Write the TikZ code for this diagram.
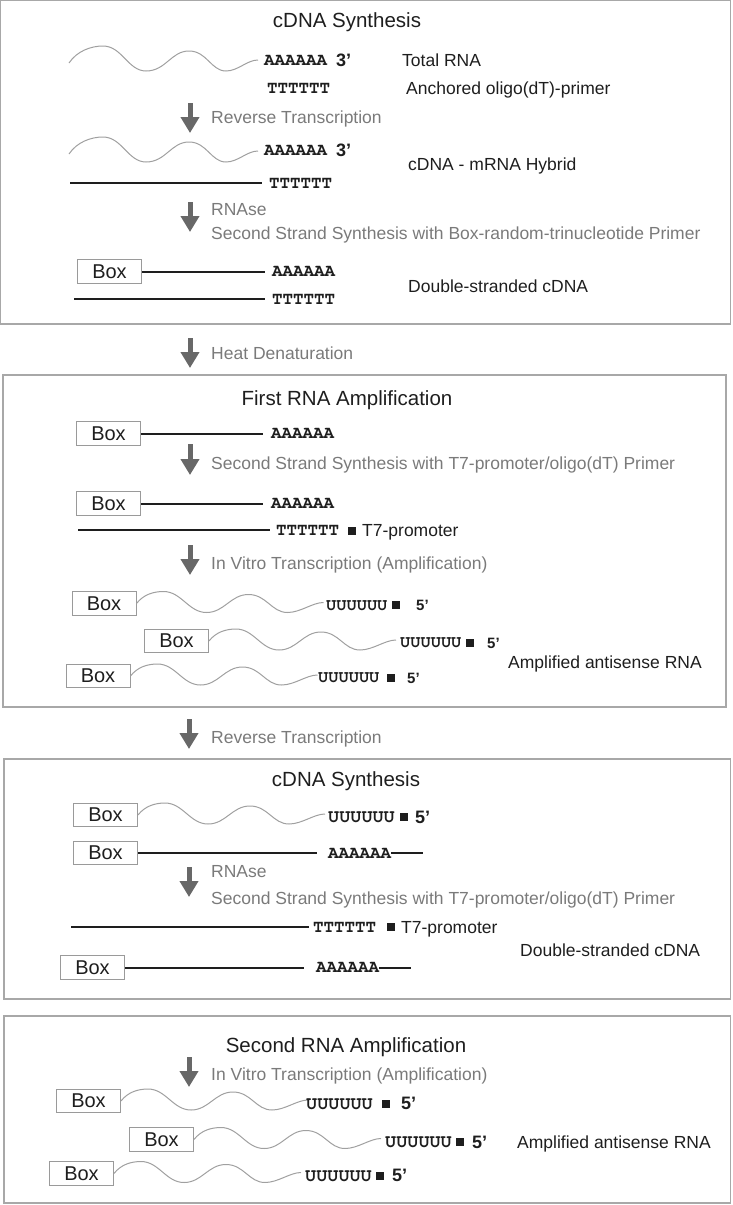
\documentclass[tikz,border=0pt]{standalone}
\usepackage{fontspec}
\setmainfont{Liberation Sans}
\newfontfamily\monofam{texgyrecursor-regular.otf}[BoldFont=texgyrecursor-bold.otf]
\usetikzlibrary{arrows.meta}
\definecolor{framegray}{HTML}{A8A8A8}
\definecolor{boxgray}{HTML}{9A9A9A}
\definecolor{wavegray}{HTML}{A0A0A0}
\definecolor{stepgray}{HTML}{7A7A7A}
\definecolor{arrowgray}{HTML}{686868}
\definecolor{ink}{HTML}{1E1E1E}
\tikzset{
  frame/.style={draw=framegray, line width=1.2pt},
  title/.style={inner sep=0pt, anchor=base, font=\fontsize{20.5}{24}\selectfont, text=ink},
  label/.style={inner sep=0pt, anchor=base west, font=\fontsize{17.5}{21}\selectfont, text=ink},
  steplabel/.style={label, text=stepgray},
  seq/.style={inner sep=0pt, anchor=base west, font=\monofam\bfseries\fontsize{17.5}{21}\selectfont, text=ink},
  useq/.style={inner sep=0pt, anchor=base west, font=\monofam\bfseries\fontsize{18.5}{21}\selectfont, text=ink},
  useqsmall/.style={useq, font=\monofam\bfseries\fontsize{17}{19}\selectfont},
  primelabel/.style={inner sep=0pt, anchor=base west, font=\bfseries\fontsize{18}{21}\selectfont, text=ink},
  primesmall/.style={primelabel, font=\bfseries\fontsize{15}{18}\selectfont},
  boxnode/.style={draw=boxgray, line width=1pt, minimum width=64pt, minimum height=23.5pt, inner sep=0pt, font=\fontsize{20}{22}\selectfont, text=ink},
  sqnode/.style={fill=ink, minimum size=8pt, inner sep=0pt},
  strand/.style={draw=ink, line width=2pt},
  steparrow/.style={draw=arrowgray, line width=5pt, -{Triangle[width=18pt,length=16pt]}},
  wavestyle/.style={draw=wavegray, line width=1pt},
  toprna/.pic={\draw[wavestyle] (0,0) .. controls (8,-12) and (22,-17) .. (34,-17) .. controls (53,-17) and (59,8) .. (77,8) .. controls (97,8) and (102,-12) .. (120,-12) .. controls (138,-12) and (142,8) .. (157,8) .. controls (169,8) and (178,-3) .. (189,-3);},
  boxrna/.pic={\draw[wavestyle] (0,0) .. controls (7,-9) and (17,-12) .. (27,-12) .. controls (45,-12) and (52,9) .. (70,9) .. controls (88,9) and (94,-9) .. (112,-9) .. controls (130,-9) and (135,9) .. (151,9) .. controls (164,9) and (176,-1) .. (187,-1);}
}
\begin{document}
\begin{tikzpicture}[x=1pt,y=-1pt]
\useasboundingbox (0,0) rectangle (732,1205);
% ---------------- Frame 1
\draw[frame] (0.6,0.6) rectangle (730.6,324);
\node[title] (ti1) at (347,27.5) {cDNA Synthesis};
\pic at (69,63) {toprna};
\node[seq] (a1) at (264,65) {AAAAAA};
\node[primelabel] (p1) at (336,66.5) {3’};
\node[label] (l1) at (402,66) {Total RNA};
\node[seq] (tt1) at (267,93) {TTTTTT};
\node[label] (l2) at (406,94) {Anchored oligo(dT)-primer};
\coordinate (ar1s) at (190,103); \coordinate (ar1e) at (190,133);
\draw[steparrow] (ar1s) -- (ar1e);
\node[steplabel] (s1) at (211,123) {Reverse Transcription};
\pic at (69,154) {toprna};
\node[seq] (a2) at (264,155) {AAAAAA};
\node[primelabel] (p2) at (336,156.5) {3’};
\node[label] (l3) at (408,170) {cDNA - mRNA Hybrid};
\node[seq] (tt2) at (269,188) {TTTTTT};
\coordinate (c1) at (70,183);
\draw[strand] (c1) -- ([xshift=-7pt]c1 -| tt2.west);
\coordinate (ar2s) at (190,202); \coordinate (ar2e) at (190,232);
\draw[steparrow] (ar2s) -- (ar2e);
\node[steplabel] (s2) at (211,215) {RNAse};
\node[steplabel] (s3) at (211,239) {Second Strand Synthesis with Box-random-trinucleotide Primer};
\node[boxnode] (b1) at (109.5,271.5) {Box};
\node[seq] (a3) at (272,276.5) {AAAAAA};
\draw[strand] (b1.east) -- ([xshift=-7pt]b1.east -| a3.west);
\node[label] (l4) at (408,292) {Double-stranded cDNA};
\node[seq] (tt3) at (272,304.5) {TTTTTT};
\coordinate (c2) at (74,299);
\draw[strand] (c2) -- ([xshift=-7pt]c2 -| tt3.west);
% ---------------- between
\coordinate (ar3s) at (190,338); \coordinate (ar3e) at (190,368);
\draw[steparrow] (ar3s) -- (ar3e);
\node[steplabel] (s4) at (211,359) {Heat Denaturation};
% ---------------- Frame 2
\draw[frame] (3,375) rectangle (726,707);
\node[title] (ti2) at (347,405) {First RNA Amplification};
\node[boxnode] (b2) at (108.5,433.5) {Box};
\node[seq] (a4) at (271,438.5) {AAAAAA};
\draw[strand] (b2.east) -- ([xshift=-8pt]b2.east -| a4.west);
\coordinate (ar4s) at (190,444); \coordinate (ar4e) at (190,475);
\draw[steparrow] (ar4s) -- (ar4e);
\node[steplabel] (s5) at (211,469) {Second Strand Synthesis with T7-promoter/oligo(dT) Primer};
\node[boxnode] (b3) at (108.5,503.5) {Box};
\node[seq] (a5) at (271,508.5) {AAAAAA};
\draw[strand] (b3.east) -- ([xshift=-8pt]b3.east -| a5.west);
\node[seq] (tt4) at (276,535.5) {TTTTTT};
\coordinate (c3) at (78,530);
\draw[strand] (c3) -- ([xshift=-6pt]c3 -| tt4.west);
\node[sqnode] (q1) at (351.5,530.5) {};
\node[label] (l5) at (362,536.5) {T7-promoter};
\coordinate (ar5s) at (190,545); \coordinate (ar5e) at (190,575);
\draw[steparrow] (ar5s) -- (ar5e);
\node[steplabel] (s6) at (211,569) {In Vitro Transcription (Amplification)};
\node[boxnode] (b4) at (104,603.5) {Box};
\pic at (b4.east) {boxrna};
\node[useqsmall] (u1) at (326,610) {UUUUUU};
\node[sqnode] (q2) at (396,605) {};
\node[primesmall] (p3) at (416,610.5) {5’};
\node[boxnode] (b5) at (176.5,641) {Box};
\pic at (b5.east) {boxrna};
\node[useqsmall] (u2) at (400,647.5) {UUUUUU};
\node[sqnode] (q3) at (469.5,642.5) {};
\node[primesmall] (p4) at (487,648) {5’};
\node[label] (l6) at (508,668) {Amplified antisense RNA};
\node[boxnode] (b6) at (98,676) {Box};
\pic at (b6.east) {boxrna};
\node[useqsmall] (u3) at (318,682.5) {UUUUUU};
\node[sqnode] (q4) at (391,677.5) {};
\node[primesmall] (p5) at (407,683) {5’};
% ---------------- between
\coordinate (ar6s) at (189,719); \coordinate (ar6e) at (189,749);
\draw[steparrow] (ar6s) -- (ar6e);
\node[steplabel] (s7) at (211,743) {Reverse Transcription};
% ---------------- Frame 3
\draw[frame] (4,759) rectangle (730.6,999);
\node[title] (ti3) at (346,786) {cDNA Synthesis};
\node[boxnode] (b7) at (105.5,815) {Box};
\pic at (b7.east) {boxrna};
\node[useq] (u4) at (328,822) {UUUUUU};
\node[sqnode] (q5) at (404,816.5) {};
\node[primelabel] (p6) at (415,823) {5’};
\node[boxnode] (b8) at (105.5,853) {Box};
\node[seq] (a6) at (328,858) {AAAAAA};
\draw[strand] (b8.east) -- ([xshift=-11pt]b8.east -| a6.west);
\coordinate (c4) at (394,853);
\draw[strand] (a6.east |- c4) -- ++(32,0);
\coordinate (ar7s) at (189,867); \coordinate (ar7e) at (189,897);
\draw[steparrow] (ar7s) -- (ar7e);
\node[steplabel] (s8) at (211,877) {RNAse};
\node[steplabel] (s9) at (211,904) {Second Strand Synthesis with T7-promoter/oligo(dT) Primer};
\node[seq] (tt5) at (313,932) {TTTTTT};
\coordinate (c5) at (71,926.5);
\draw[strand] (c5) -- ([xshift=-4pt]c5 -| tt5.west);
\node[sqnode] (q6) at (390.5,927) {};
\node[label] (l7) at (401,933.5) {T7-promoter};
\node[label] (l8) at (520,956) {Double-stranded cDNA};
\node[boxnode] (b9) at (92.5,967.5) {Box};
\node[seq] (a7) at (316,972.5) {AAAAAA};
\draw[strand] (b9.east) -- ([xshift=-12pt]b9.east -| a7.west);
\coordinate (c6) at (382,967.5);
\draw[strand] (a7.east |- c6) -- ++(32,0);
% ---------------- Frame 4
\draw[frame] (4,1016) rectangle (730.6,1203);
\node[title] (ti4) at (346,1052) {Second RNA Amplification};
\coordinate (ar8s) at (189,1057); \coordinate (ar8e) at (189,1087);
\draw[steparrow] (ar8s) -- (ar8e);
\node[steplabel] (s10) at (211,1080) {In Vitro Transcription (Amplification)};
\node[boxnode] (b10) at (88.5,1101) {Box};
\pic at (b10.east) {boxrna};
\node[useq] (u5) at (306,1109) {UUUUUU};
\node[sqnode] (q7) at (386,1103.5) {};
\node[primelabel] (p7) at (401,1109.5) {5’};
\node[boxnode] (b11) at (161.5,1139.5) {Box};
\pic at (b11.east) {boxrna};
\node[useq] (u6) at (385,1147.5) {UUUUUU};
\node[sqnode] (q8) at (459.5,1142) {};
\node[primelabel] (p8) at (472,1148) {5’};
\node[label] (l9) at (517,1148) {Amplified antisense RNA};
\node[boxnode] (b12) at (81.5,1173.5) {Box};
\pic at (b12.east) {boxrna};
\node[useq] (u7) at (305,1181) {UUUUUU};
\node[sqnode] (q9) at (380,1175.5) {};
\node[primelabel] (p9) at (392,1181.5) {5’};
\end{tikzpicture}
\end{document}
